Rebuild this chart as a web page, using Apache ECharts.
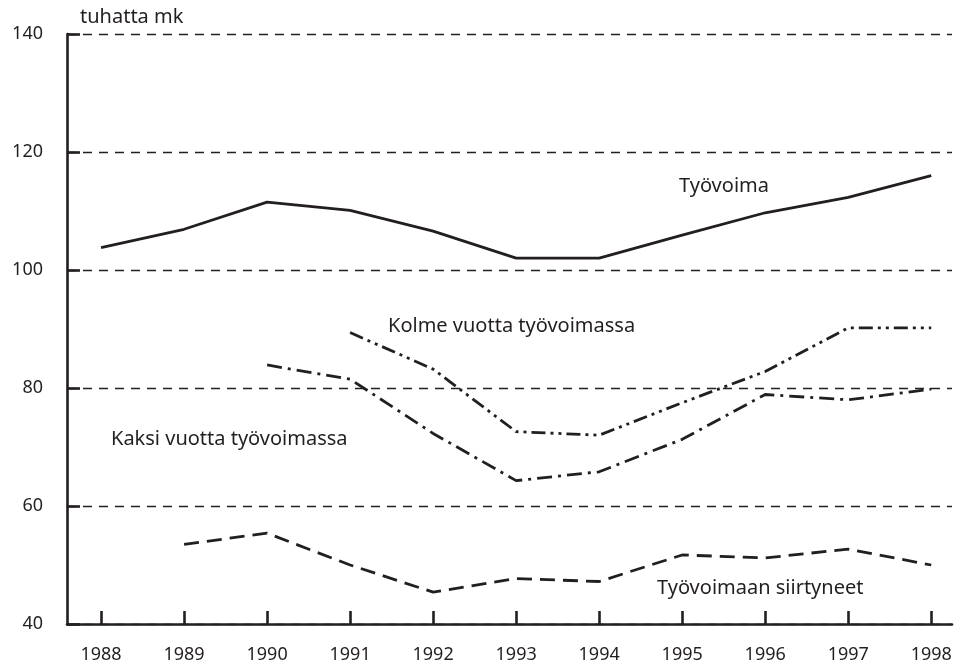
<!DOCTYPE html>
<html>
  <meta charset="UTF-8">
  <title>Työvoima - tuhatta mk</title>
  <style type="text/css">
    html,body{margin:0px;height:100%;width:100%;background:#fff}
    .container{width:959px;height:671px}
  </style>
  <script type="text/javascript" src="https://cdn.jsdelivr.net/npm/echarts@6/dist/echarts.min.js"></script>
  <body>
    <div id="chart" class="container"></div>

    <script>
      // vuodet
      var years = [1988, 1989, 1990, 1991, 1992, 1993, 1994, 1995, 1996, 1997, 1998];
      var yTicks = [40, 60, 80, 100, 120, 140];

      // tuhatta mk
      var tyovoima   = [103.8, 106.9, 111.5, 110.1, 106.6, 102.0, 102.0, 105.9, 109.7, 112.3, 116.0];
      var kolmeVuotta = [null, null, null, 89.4, 83.2, 72.6, 72.0, 77.5, 82.8, 90.2, 90.2];
      var kaksiVuotta = [null, null, 83.9, 81.5, 72.3, 64.3, 65.8, 71.3, 78.9, 78.0, 79.8];
      var siirtyneet  = [null, 53.5, 55.4, 50.0, 45.4, 47.7, 47.2, 51.7, 51.2, 52.7, 50.0];

      var ink = '#231f20';
      var font = '"Noto Sans", sans-serif';

      function pairs(vals) {
        var out = [];
        for (var i = 0; i < years.length; i++) {
          if (vals[i] != null) out.push([years[i], vals[i]]);
        }
        return out;
      }

      function lineSeries(name, vals, dash) {
        return {
          name: name,
          type: 'line',
          data: pairs(vals),
          symbol: 'none',
          silent: true,
          lineStyle: { color: ink, width: 2.8, type: dash, cap: 'butt' }
        };
      }

      function note(x, y, text) {
        return { type: 'text', x: x, y: y, style: { text: text, font: '20px ' + font, fill: ink, verticalAlign: 'middle' } };
      }

      var chart = echarts.init(document.getElementById('chart'));
      var option = {
        animation: false,
        grid: { left: 67, right: 7, top: 34, bottom: 47 },
        xAxis: {
          type: 'value',
          min: 1987.59,
          max: 1998.25,
          axisLine: { lineStyle: { color: ink, width: 2.6 } },
          axisTick: {
            inside: true, length: 13,
            customValues: years,
            lineStyle: { color: ink, width: 2.6 }
          },
          axisLabel: {
            customValues: years,
            margin: 22,
            color: ink,
            fontFamily: font,
            fontSize: 18,
            formatter: function (v) { return String(v); }
          },
          splitLine: { show: false }
        },
        yAxis: {
          type: 'value',
          min: yTicks[0],
          max: yTicks[yTicks.length - 1],
          interval: 20,
          axisLine: { show: true, lineStyle: { color: ink, width: 2.6 } },
          axisTick: { show: true, inside: true, length: 13, lineStyle: { color: ink, width: 2.6 } },
          axisLabel: {
            margin: 24,
            color: ink,
            fontFamily: font,
            fontSize: 18
          },
          splitLine: { lineStyle: { color: ink, width: 1.3, type: [9, 7] } }
        },
        series: [
          lineSeries('Työvoima', tyovoima, 'solid'),
          lineSeries('Kolme vuotta työvoimassa', kolmeVuotta, [14, 5, 3, 5, 3, 5]),
          lineSeries('Kaksi vuotta työvoimassa', kaksiVuotta, [15, 6, 3, 6]),
          lineSeries('Työvoimaan siirtyneet', siirtyneet, [15, 8])
        ],
        graphic: [
          note(80, 17, 'tuhatta mk'),
          note(679, 186, 'Työvoima'),
          note(388, 326, 'Kolme vuotta työvoimassa'),
          note(111, 439, 'Kaksi vuotta työvoimassa'),
          note(657, 588, 'Työvoimaan siirtyneet')
        ]
      };
      chart.setOption(option);
    </script>
  </body>
</html>
